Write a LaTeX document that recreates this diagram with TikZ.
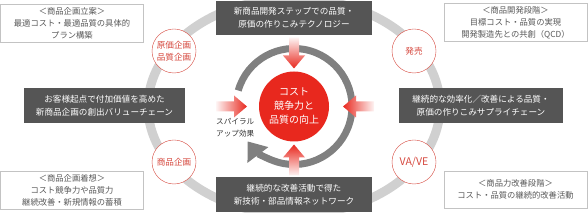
\documentclass[tikz,border=0pt]{standalone}
\usepackage{fontspec}
\setmainfont{Noto Sans CJK JP}
\usetikzlibrary{arrows.meta, positioning, calc}
\definecolor{boxgray}{RGB}{85,85,85}
\definecolor{softline}{RGB}{195,195,195}
\definecolor{ringgray}{RGB}{208,208,208}
\definecolor{spiralgray}{RGB}{128,128,128}
\definecolor{accent}{RGB}{232,40,30}
\definecolor{stagered}{RGB}{214,72,62}
\definecolor{notetext}{RGB}{88,88,88}

\begin{document}
\begin{tikzpicture}[x=1pt, y=1pt,
        keybox/.style={rectangle, fill=boxgray, text=white,
                       minimum width=156pt, minimum height=34pt, inner sep=0pt,
                       align=center, font=\fontsize{8.6}{12.8}\selectfont},
        notebox/.style={rectangle, draw=softline, fill=white, text=notetext,
                        minimum width=143pt, minimum height=38pt, inner sep=0pt,
                        align=center, font=\fontsize{8.3}{12}\selectfont},
        milestone/.style={circle, draw=stagered, fill=white, text=stagered,
                          minimum size=44pt, inner sep=0pt, align=center,
                          font=\fontsize{8.6}{11.5}\selectfont},
    ]
        \useasboundingbox (0,0) rectangle (588,213);
        \coordinate (hub) at (294,106.5);

        % outer cycle
        \draw[ringgray, line width=9pt] (hub) ellipse [x radius=146pt, y radius=108pt];

        \node[milestone] (plan) at (174,162) {原価企画\\品質企画};
        \node[milestone] (launch) at (414,162) {発売};
        \node[milestone] (idea) at (174,51) {商品企画};
        \node[milestone, font=\fontsize{10.5}{12}\selectfont] (vave) at (414,51) {VA/VE};

        \node[keybox] (tech) at (294,195) {新商品開発ステップでの品質・\\原価の作りこみテクノロジー};
        \node[keybox, minimum width=161pt, minimum height=35pt] (value) at (104.5,107.5) {お客様起点で付加価値を高めた\\新商品企画の創出バリューチェーン};
        \node[keybox, minimum width=164pt, minimum height=35pt] (supply) at (481,107.5) {継続的な効率化／改善による品質・\\原価の作りこみサプライチェーン};
        \node[keybox, minimum height=35pt] (network) at (294,18.5) {継続的な改善活動で得た\\新技術・部品情報ネットワーク};

        \node[notebox] (draft) at (72,190) {＜商品企画立案＞\\最適コスト・最適品質の具体的\\プラン構築};
        \node[notebox] (dev) at (515.5,190.5) {＜商品開発段階＞\\目標コスト・品質の実現\\開発製造先との共創（QCD）};
        \node[notebox] (concept) at (72,22.5) {＜商品企画着想＞\\コスト競争力や品質力\\継続改善・新規情報の蓄積};
        \node[notebox, minimum height=37pt] (improve) at (515.5,23.5) {＜商品力改善段階＞\\コスト・品質の継続的改善活動};

        % spiral-up ring
        \draw[spiralgray, line width=7pt, -{Triangle[width=25pt, length=17pt]}]
            ($(hub)+(164:58pt)$) arc[start angle=164, end angle=-143, radius=58pt];

        \node[circle, fill=accent, text=white, minimum size=70pt, inner sep=0pt,
              align=center, font=\fontsize{10}{14}\selectfont] (core) at (hub) {コスト\\競争力と\\品質の向上};

        % inflow arrows
        \shade[top color=accent!5, bottom color=accent] ($(core.center)+(0,38)$)
            -- ++(-11,13) -- ++(6,0) -- ++(0,18) -- ++(10,0) -- ++(0,-18) -- ++(6,0) -- cycle;
        \shade[top color=accent, bottom color=accent!5] ($(core.center)+(0,-38)$)
            -- ++(-11,-13) -- ++(6,0) -- ++(0,-18) -- ++(10,0) -- ++(0,18) -- ++(6,0) -- cycle;
        \shade[left color=accent!5, right color=accent] ($(core.center)+(-47,0)$)
            -- ++(-13,11) -- ++(0,-6) -- ++(-18,0) -- ++(0,-10) -- ++(18,0) -- ++(0,-6) -- cycle;
        \shade[left color=accent, right color=accent!5] ($(core.center)+(49,0)$)
            -- ++(13,11) -- ++(0,-6) -- ++(18,0) -- ++(0,-10) -- ++(-18,0) -- ++(0,-6) -- cycle;

        \node[anchor=west, align=left, text=black!80, font=\fontsize{7.6}{12}\selectfont,
              inner sep=0pt] (spiral) at (216,85) {スパイラル\\アップ効果};

    \end{tikzpicture}
\end{document}
